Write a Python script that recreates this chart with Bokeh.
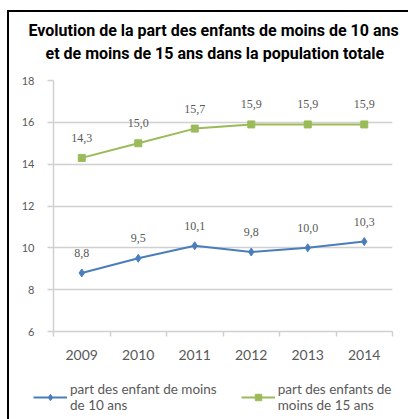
from bokeh.plotting import figure
from bokeh.layouts import column
from bokeh.models import (ColumnDataSource, LabelSet, Legend, LegendItem, Title,
                          FixedTicker, Range1d)
from bokeh.embed import file_html
from bokeh.resources import INLINE

years = ["2009", "2010", "2011", "2012", "2013", "2014"]
moins10 = [8.8, 9.5, 10.1, 9.8, 10.0, 10.3]
moins15 = [14.3, 15.0, 15.7, 15.9, 15.9, 15.9]
y_ticks = [6, 8, 10, 12, 14, 16, 18]
title_lines = ["Evolution de la part des enfants de moins de 10 ans",
               "et de moins de 15 ans dans la population totale"]
legend_labels = ["part des enfant de moins\nde 10 ans",
                 "part des enfants de\nmoins de 15 ans"]

BLUE = "#4a7ebb"
GREEN = "#9bbb59"
GREY_TXT = "#595959"
GRID = "#d0d0d0"

idx = list(range(len(years)))
fmt = lambda v: f"{v:.1f}".replace(".", ",")
src10 = ColumnDataSource(dict(x=idx, y=moins10, lab=[fmt(v) for v in moins10]))
src15 = ColumnDataSource(dict(x=idx, y=moins15, lab=[fmt(v) for v in moins15]))

p = figure(width=408, height=362, output_backend="svg", toolbar_location=None,
           x_range=Range1d(-0.5, len(years) - 0.5), y_range=Range1d(6, 18),
           min_border_left=53, min_border_right=16, min_border_top=80,
           min_border_bottom=30)
p.title = None
p.outline_line_color = None
p.border_fill_color = None
p.background_fill_color = "white"
p.frame_align = False

# titles: spacer first (closest to frame), then line 2, then line 1
spacer = Title(text=" ", text_font_size="10px", standoff=5)
t2 = Title(text=title_lines[1], align="left", text_font="Roboto",
           text_font_style="bold", text_font_size="16px", text_color="black",
           standoff=0, offset=-8)
t1 = Title(text=title_lines[0], align="left", text_font="Roboto",
           text_font_style="bold", text_font_size="16px", text_color="black",
           standoff=4, offset=-25)
p.add_layout(spacer, "above")
p.add_layout(t2, "above")
p.add_layout(t1, "above")

# axes
p.xaxis.ticker = FixedTicker(ticks=idx, minor_ticks=[i - 0.5 for i in range(len(years) + 1)])
p.xaxis.major_label_overrides = {i: y for i, y in enumerate(years)}
p.xaxis.major_tick_line_color = None
p.xaxis.major_tick_out = 0
p.xaxis.major_tick_in = 0
p.xaxis.minor_tick_line_color = GRID
p.xaxis.minor_tick_line_width = 1.5
p.xaxis.minor_tick_out = 5
p.xaxis.minor_tick_in = 0
p.xaxis.major_label_standoff = 13
p.xaxis.axis_line_color = GRID
p.xaxis.axis_line_width = 1.5
p.xaxis.major_label_text_font = "Lato"
p.xaxis.major_label_text_font_size = "14px"
p.xaxis.major_label_text_color = GREY_TXT

p.yaxis.ticker = FixedTicker(ticks=y_ticks)
p.yaxis.minor_tick_line_color = None
p.yaxis.major_tick_out = 6
p.yaxis.major_tick_in = 0
p.yaxis.major_tick_line_color = GRID
p.yaxis.major_tick_line_width = 1.5
p.yaxis.axis_line_color = GRID
p.yaxis.axis_line_width = 1.5
p.yaxis.major_label_standoff = 13
p.yaxis.major_label_text_font = "Lato"
p.yaxis.major_label_text_font_size = "11px"
p.yaxis.major_label_text_color = GREY_TXT

p.xgrid.grid_line_color = None
p.ygrid.grid_line_color = GRID
p.ygrid.grid_line_width = 1.5

# series
p.line("x", "y", source=src10, color=BLUE, line_width=2)
p.scatter("x", "y", source=src10, marker="diamond", size=8, color=BLUE)
p.line("x", "y", source=src15, color=GREEN, line_width=2)
p.scatter("x", "y", source=src15, marker="square", size=7, color=GREEN)

for s in (src10, src15):
    p.add_layout(LabelSet(x="x", y="y", text="lab", source=s, y_offset=20,
                          text_align="center", text_baseline="middle",
                          text_font="Lato", text_font_size="12px",
                          text_color=GREY_TXT))

# legend strip below the chart (its ranges keep the series out of view;
# only the legend swatches and labels are visible)
pl = figure(width=408, height=57, output_backend="svg", toolbar_location=None,
            x_range=Range1d(-20, -10), y_range=Range1d(-20, -10),
            min_border=0, min_border_left=0, min_border_right=0,
            min_border_top=0, min_border_bottom=0)
pl.frame_align = False
pl.title = None
pl.axis.visible = False
pl.grid.visible = False
pl.outline_line_color = None
pl.border_fill_color = None
pl.background_fill_color = None
gl10 = pl.line("x", "y", source=src10, color=BLUE, line_width=2)
gm10 = pl.scatter("x", "y", source=src10, marker="diamond", size=8, color=BLUE)
gl15 = pl.line("x", "y", source=src15, color=GREEN, line_width=2)
gm15 = pl.scatter("x", "y", source=src15, marker="square", size=7, color=GREEN)

legend = Legend(items=[LegendItem(label=legend_labels[0], renderers=[gl10, gm10]),
                       LegendItem(label=legend_labels[1], renderers=[gl15, gm15])],
                orientation="horizontal", location=(33, 6),
                glyph_width=34, glyph_height=16, label_standoff=3, spacing=24,
                padding=0, margin=0, border_line_color=None,
                background_fill_alpha=0, label_text_font="Lato",
                label_text_font_size="13.5px", label_text_color=GREY_TXT,
                label_text_line_height=1.45)
pl.add_layout(legend)

layout = column(p, pl, spacing=0)
layout.styles = {
    "background-color": "white",
    "background-image": "linear-gradient(#000, #000), linear-gradient(#000, #000)",
    "background-position": "7px 10px, 7px 10px",
    "background-size": "2px 409px, 401px 2px",
    "background-repeat": "no-repeat, no-repeat",
}

open("out.html", "w").write(file_html(layout, INLINE))
